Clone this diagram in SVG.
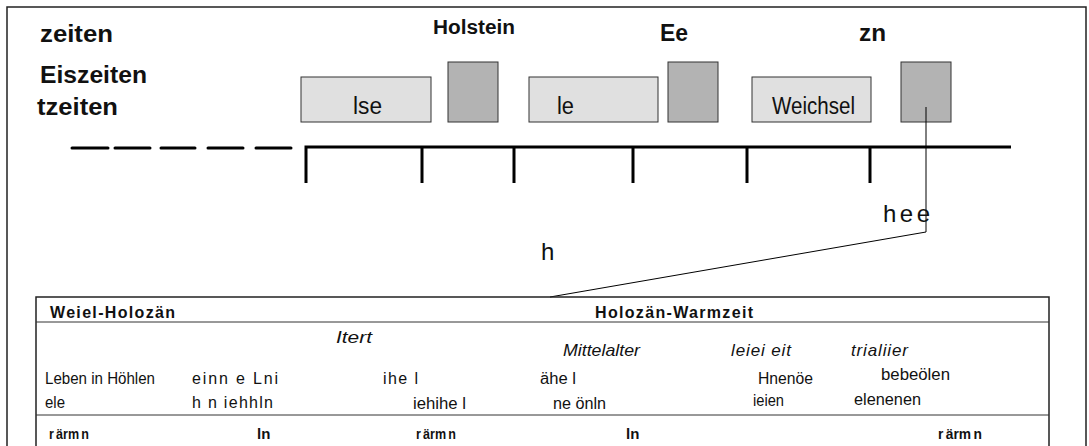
<svg xmlns="http://www.w3.org/2000/svg" width="1089" height="446" viewBox="0 0 1089 446">
  <style>
    text { font-family: "Liberation Sans", Arial, sans-serif; fill: #111; }
    .title { font-size: 24px; font-weight: bold; }
    .hold { font-size: 20px; font-weight: bold; }
    .lbl { font-size: 23px; }
    .note { font-size: 24px; }
    .hdr { font-size: 16px; font-weight: bold; }
    .it { font-size: 17px; font-style: italic; }
    .cell { font-size: 16px; }
    .foot { font-size: 15px; font-weight: bold; word-spacing: -1.5px; }
    .cold { fill: #e0e0e0; stroke: #333; stroke-width: 1; }
    .warm { fill: #b3b3b3; stroke: #333; stroke-width: 1; }
    .axis { stroke: #000; stroke-width: 3; fill: none; }
    .thin { stroke: #000; stroke-width: 1; fill: none; }
    .frame { stroke: #222; stroke-width: 1.5; fill: none; }
    .rule { stroke: #333; stroke-width: 1; }
  </style>

  <!-- outer frame (open at the bottom) -->
  <path class="frame" d="M7,446 V7 H1086 V446"/>

  <!-- period headings -->
  <g id="headings">
    <text class="title" x="40" y="42" textLength="73" lengthAdjust="spacingAndGlyphs">zeiten</text>
    <text class="title" x="40" y="83" textLength="107" lengthAdjust="spacingAndGlyphs">Eiszeiten</text>
    <text class="title" x="37" y="115" textLength="81" lengthAdjust="spacingAndGlyphs">tzeiten</text>
    <text class="hold" x="433" y="34" textLength="82" lengthAdjust="spacingAndGlyphs">Holstein</text>
    <text class="title" x="660" y="41" textLength="28" lengthAdjust="spacingAndGlyphs">Ee</text>
    <text class="title" x="859" y="41" textLength="27" lengthAdjust="spacingAndGlyphs">zn</text>
  </g>

  <!-- glacial periods -->
  <g id="glacial-1">
    <rect class="cold" x="301" y="77" width="130" height="45"/>
    <text class="lbl" x="353" y="114" textLength="29" lengthAdjust="spacingAndGlyphs">lse</text>
  </g>
  <g id="glacial-2">
    <rect class="cold" x="529" y="77" width="129" height="45"/>
    <text class="lbl" x="557" y="114" textLength="17" lengthAdjust="spacingAndGlyphs">le</text>
  </g>
  <g id="glacial-3">
    <rect class="cold" x="752" y="77" width="119" height="45"/>
    <text class="lbl" x="772" y="114" textLength="83" lengthAdjust="spacingAndGlyphs">Weichsel</text>
  </g>

  <!-- warm periods -->
  <g id="warm-1"><rect class="warm" x="448" y="62" width="50" height="60"/></g>
  <g id="warm-2"><rect class="warm" x="668" y="62" width="50" height="60"/></g>
  <g id="warm-3"><rect class="warm" x="901" y="62" width="50" height="60"/></g>

  <!-- time axis -->
  <g id="axis">
    <path class="axis" stroke-linecap="round" d="M72,148 H108 M115,148 H150 M161,148 H195 M208,148 H243 M256,148 H291"/>
    <path class="axis" d="M306,183 V147 H1011 M422,147 V183 M514,147 V183 M633,147 V183 M747,147 V183 M870,147 V183"/>
  </g>

  <!-- callout -->
  <g id="connectors">
    <path class="thin" d="M926,107 V232 L550,297"/>
  </g>
  <g id="callout-labels">
    <text class="note" x="883" y="222" textLength="47" lengthAdjust="spacing">hee</text>
    <text class="note" x="541" y="260">h</text>
  </g>

  <!-- Holocene table -->
  <g id="table">
    <path class="frame" d="M36,446 V297 H1049 V446"/>
    <line class="rule" x1="36" y1="322" x2="1049" y2="322"/>
    <line class="rule" x1="36" y1="415" x2="1049" y2="415" stroke="#555"/>

    <text class="hdr" x="50" y="318" textLength="125" lengthAdjust="spacing">Weiel-Holozän</text>
    <text class="hdr" x="595" y="318" textLength="158" lengthAdjust="spacing">Holozän-Warmzeit</text>

    <text class="it" x="336" y="343" textLength="36" lengthAdjust="spacingAndGlyphs">Itert</text>
    <text class="it" x="563" y="356" textLength="77" lengthAdjust="spacingAndGlyphs">Mittelalter</text>
    <text class="it" x="731" y="356" textLength="60" lengthAdjust="spacing">leiei eit</text>
    <text class="it" x="851" y="356" textLength="57" lengthAdjust="spacing">trialiier</text>

    <text class="cell" x="45" y="384" textLength="110" lengthAdjust="spacingAndGlyphs">Leben in Höhlen</text>
    <text class="cell" x="45" y="408" textLength="20" lengthAdjust="spacingAndGlyphs">ele</text>
    <text class="cell" x="192" y="384" textLength="86" lengthAdjust="spacing">einn e Lni</text>
    <text class="cell" x="192" y="408" textLength="81" lengthAdjust="spacing">h n iehhln</text>
    <text class="cell" x="383" y="384" textLength="35" lengthAdjust="spacing">ihe l</text>
    <text class="cell" x="413" y="409" textLength="53" lengthAdjust="spacingAndGlyphs">iehihe l</text>
    <text class="cell" x="540" y="384" textLength="36" lengthAdjust="spacingAndGlyphs">ähe l</text>
    <text class="cell" x="553" y="409" textLength="53" lengthAdjust="spacingAndGlyphs">ne önln</text>
    <text class="cell" x="758" y="384" textLength="55" lengthAdjust="spacingAndGlyphs">Hnenöe</text>
    <text class="cell" x="881" y="380" textLength="69" lengthAdjust="spacingAndGlyphs">bebeölen</text>
    <text class="cell" x="753" y="406" textLength="31" lengthAdjust="spacingAndGlyphs">ieien</text>
    <text class="cell" x="854" y="405" textLength="67" lengthAdjust="spacingAndGlyphs">elenenen</text>

    <text class="foot" x="49" y="439" textLength="40" lengthAdjust="spacingAndGlyphs">r ärm n</text>
    <text class="foot" x="257" y="439">ln</text>
    <text class="foot" x="416" y="439" textLength="40" lengthAdjust="spacingAndGlyphs">r ärm n</text>
    <text class="foot" x="626" y="439">ln</text>
    <text class="foot" x="938" y="439" textLength="44" lengthAdjust="spacingAndGlyphs">r ärm n</text>
  </g>
</svg>
